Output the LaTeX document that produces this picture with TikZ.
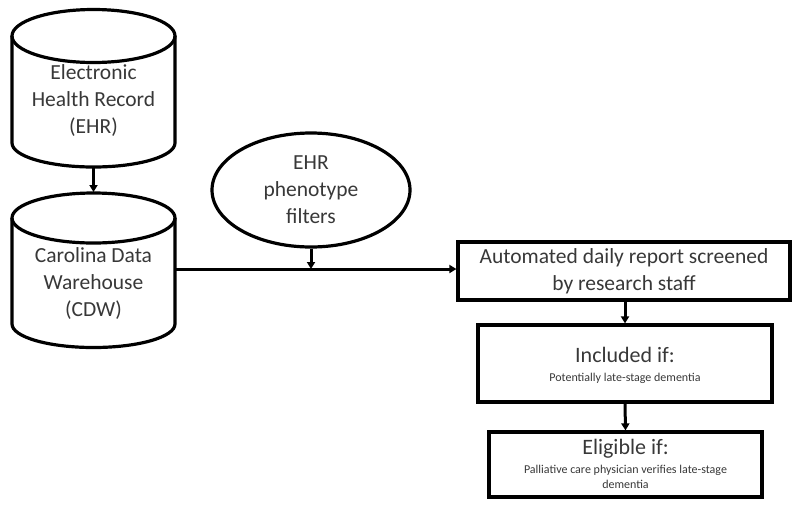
\documentclass[tikz,border=0pt]{standalone}
\usepackage{fontspec}
\setmainfont{Carlito}
\usetikzlibrary{arrows.meta,shapes.geometric}
\definecolor{txt}{HTML}{383838}
\begin{document}
\begin{tikzpicture}[x=1pt,y=-1pt,
  shapeline/.style={draw=black,line width=3.2pt},
  flow/.style={draw=black,line width=3pt,-{Triangle[length=7pt,width=8pt]}},
  bigtxt/.style={font=\fontsize{21.5}{27}\selectfont,text=txt,align=center},
  titletxt/.style={font=\fontsize{22}{27}\selectfont,text=txt,align=center},
  smalltxt/.style={font=\fontsize{12}{15}\selectfont,text=txt,align=center},
  boxstyle/.style={shapeline,rectangle,inner sep=0pt}]
\useasboundingbox (0,0) rectangle (800,507);
% cylinder 1
\draw[shapeline,fill=white] (12,36) -- (12,143) arc[start angle=180,end angle=0,x radius=81.5,y radius=24] -- (175,36);
\draw[shapeline] (93.5,36) ellipse[x radius=81.5,y radius=26.5];
\node[bigtxt] (ehr) at (93.5,101) {Electronic\\Health Record\\(EHR)};
\coordinate (ehrbot) at (93.5,168);
% cylinder 2
\draw[shapeline,fill=white] (12,218) -- (12,324) arc[start angle=180,end angle=0,x radius=81.5,y radius=23.5] -- (175,218);
\draw[shapeline] (93.5,218) ellipse[x radius=81.5,y radius=25];
\node[bigtxt] (cdw) at (93.5,284) {Carolina Data\\Warehouse\\(CDW)};
\coordinate (cdwtop) at (93.5,192);
\coordinate (cdwright) at (176,269);
% ellipse
\node[shapeline,ellipse,minimum width=198pt,minimum height=114pt,inner sep=0pt,bigtxt] (filt) at (311,190) {EHR\\phenotype\\filters};
% boxes
\node[boxstyle,minimum width=332pt,minimum height=58pt,bigtxt] (auto) at (624,271) {Automated daily report screened\\by research staff};
\node[boxstyle,minimum width=294pt,minimum height=77pt] (incl) at (625,363.5) {};
\node[titletxt] (inclt) at (625,355) {Included if:};
\node[smalltxt] (incls) at (625,378) {Potentially late-stage dementia};
\node[boxstyle,minimum width=273pt,minimum height=65pt] (elig) at (625.5,464.5) {};
\node[titletxt] (eligt) at (625.5,449) {Eligible if:};
\node[smalltxt] (eligs) at (625.5,477) {Palliative care physician verifies late-stage\\dementia};
\coordinate (join) at (filt.south |- cdwright);
% connectors
\draw[flow] (ehrbot) -- (cdwtop);
\draw[line width=3pt] (cdwright) -- (join);
\draw[flow] (join) -- (join -| auto.west);
\draw[flow] (filt.south) -- (join);
\draw[flow] (auto.south -| incl.north) -- (incl.north);
\draw[flow] (incl.south) -- (elig.north);
\end{tikzpicture}
\end{document}
